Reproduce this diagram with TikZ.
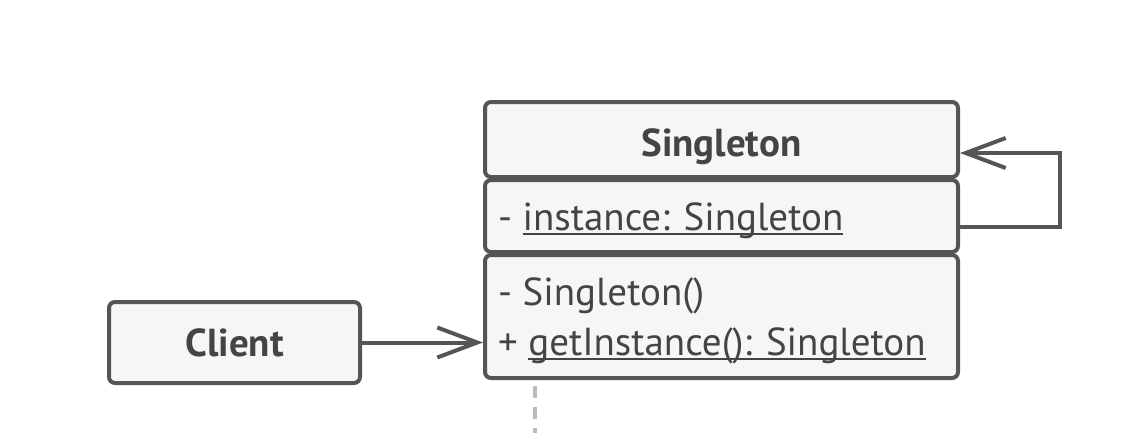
\documentclass[tikz,border=0pt]{standalone}
\usepackage{fontspec}
\setmainfont{PT Sans}
\newcommand{\umlunder}[1]{\setbox0\hbox{#1}\rlap{\rule[-5pt]{\wd0}{2pt}}\box0}
\usetikzlibrary{arrows.meta}
\definecolor{ink}{HTML}{444444}
\definecolor{edge}{HTML}{555555}
\definecolor{boxfill}{HTML}{F6F6F6}
\definecolor{dashgray}{HTML}{BBBBBB}
\tikzset{
  umlbox/.style={draw=edge, fill=boxfill, line width=4pt, rounded corners=6pt, inner sep=0pt},
  txt/.style={text=ink, inner sep=0pt, font=\fontsize{39}{46}\selectfont},
  bold/.style={text=ink, inner sep=0pt, font=\fontsize{39}{46}\selectfont\bfseries},
  conn/.style={draw=edge, line width=4pt, -{Straight Barb[length=40pt,width=30pt,line width=4pt]}},
}
\begin{document}
\begin{tikzpicture}[x=1pt,y=-1pt]
\useasboundingbox (0,0) rectangle (1136,432);
% Singleton compartments
\node[umlbox, minimum width=473pt, minimum height=75pt] (header) at (721.5,139.5) {};
\node[umlbox, minimum width=473pt, minimum height=72pt] (attr) at (721.5,216) {};
\node[umlbox, minimum width=473pt, minimum height=123pt] (methods) at (721.5,316.5) {};
% Client
\node[umlbox, minimum width=251pt, minimum height=81pt] (client) at (234.5,342.5) {};
% texts
\node[bold, anchor=base] (tsingleton) at (721.5,156) {Singleton};
\node[txt, anchor=base west] (tattr) at (498,230) {- \umlunder{instance: Singleton}};
\node[txt, anchor=base west] (tctor) at (498,305) {- Singleton()};
\node[txt, anchor=base west] (tget) at (498,355) {+ \umlunder{getInstance(): Singleton}};
\node[bold, anchor=base] (tclient) at (234.5,356) {Client};
% connectors
\draw[conn] (client.east) -- (client.east -| methods.west);
\coordinate (loopout) at (958,227);
\coordinate (loopin) at (960,153);
\coordinate (loopcorner) at (1060,227);
\draw[conn, shorten <=-2pt] (loopout) -- (loopcorner) |- (loopin);
% dashed lifeline
\coordinate (dashtop) at (535,386);
\coordinate (dashbot) at (535,440);
\draw[dashgray, line width=4pt, dash pattern=on 12pt off 9pt] (dashtop) -- (dashbot);
\end{tikzpicture}
\end{document}
